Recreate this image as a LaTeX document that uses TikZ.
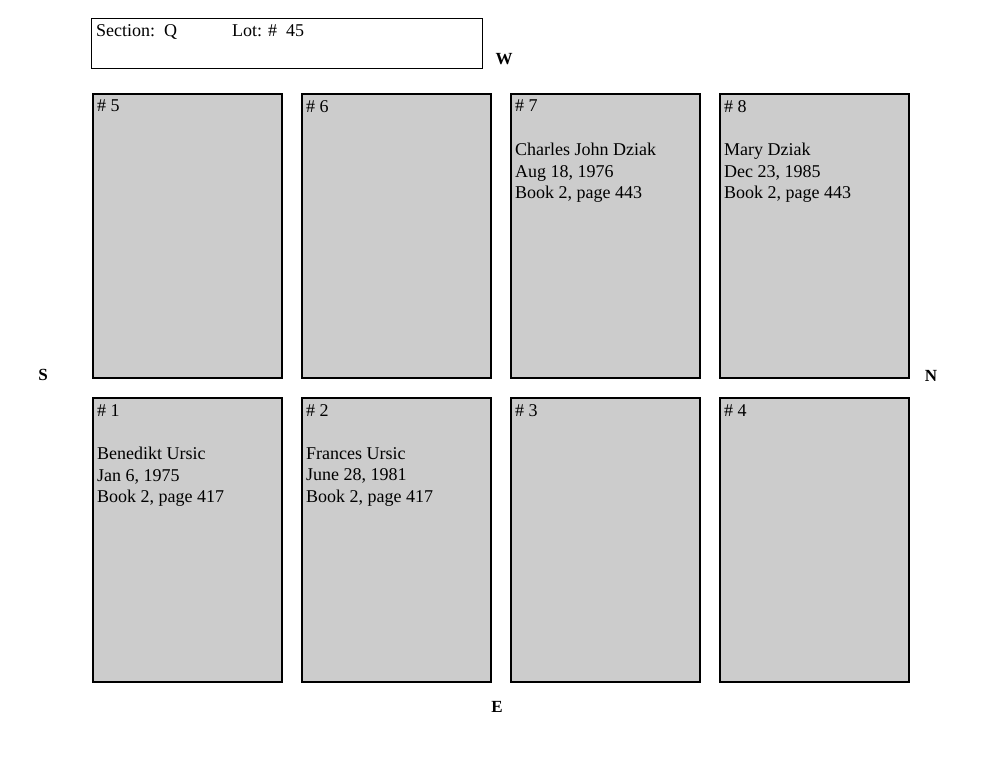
\documentclass[tikz,border=0pt]{standalone}
\usepackage{fontspec}
\setmainfont{Liberation Serif}
\definecolor{plot_gray}{RGB}{204, 204, 204}
\tikzstyle{plot}=[draw=black,fill=plot_gray,line width=2pt,
  minimum width=189pt,minimum height=284pt,anchor=north west,inner sep=0pt]
\tikzstyle{txt}=[anchor=north west,align=left,inner sep=0pt,
  font=\fontsize{18}{21.5}\selectfont]
\tikzstyle{dir}=[font=\fontsize{17}{20}\selectfont\bfseries]
\begin{document}
\begin{tikzpicture}[x=1pt,y=-1pt]
    \useasboundingbox (0,0) rectangle (1000,773);
    \node [draw=black,line width=1pt,minimum width=391pt,minimum height=50pt,
      anchor=north west,inner sep=0pt] (head) at (91,18) {};
    \node [txt] (sec) at (96,24) {Section:\ \ Q};
    \node [txt] (lot) at (232,24) {Lot: \#\ \ 45};
    \foreach \n/\x/\y in {5/92/93,6/301/93,7/510/93,8/719/93,
                          1/92/397,2/301/397,3/510/397,4/719/397} {
        \node [plot] (p\n) at (\x,\y) {};
        \node [txt] (n\n) at (\x+5,\y+7) {\# \n};
    }
    \node [txt] (d7) at (515,143) {Charles John Dziak\\Aug 18, 1976\\Book 2, page 443};
    \node [txt] (d8) at (724,143) {Mary Dziak\\Dec 23, 1985\\Book 2, page 443};
    \node [txt] (d1) at (97,447) {Benedikt Ursic\\Jan 6, 1975\\Book 2, page 417};
    \node [txt] (d2) at (306,447) {Frances Ursic\\June 28, 1981\\Book 2, page 417};
    \node [dir] (w) at (504,59) {W};
    \node [dir] (s) at (43,375) {S};
    \node [dir] (nn) at (931,376) {N};
    \node [dir] (e) at (497,707) {E};
\end{tikzpicture}
\end{document}
